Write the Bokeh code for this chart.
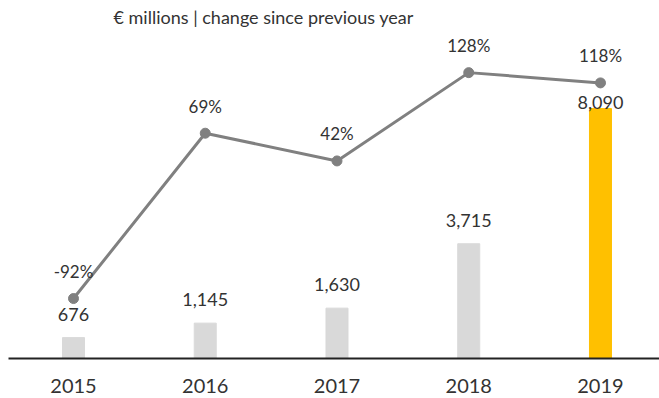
from bokeh.plotting import figure
from bokeh.models import Range1d, FixedTicker, ColumnDataSource, Title
from bokeh.embed import file_html
from bokeh.resources import INLINE
from bokeh.core.properties import value

years = ["2015", "2016", "2017", "2018", "2019"]
amounts = [676, 1145, 1630, 3715, 8090]
amount_labels = ["676", "1,145", "1,630", "3,715", "8,090"]
changes = [-92, 69, 42, 128, 118]
change_labels = ["-92%", "69%", "42%", "128%", "118%"]

bar_colors = ["#d9d9d9", "#d9d9d9", "#d9d9d9", "#d9d9d9", "#ffc000"]
amount_label_offsets = [-17, -17, -17, -17, 0]

FONT = "Lato"
TEXT = "#333333"

xs = list(range(len(years)))
src = ColumnDataSource(dict(x=xs, amt=amounts, amt_lbl=amount_labels, chg=changes,
                            chg_lbl=change_labels, color=bar_colors,
                            off=amount_label_offsets))

p = figure(frame_width=651, frame_height=329, output_backend="svg", toolbar_location=None,
           x_range=Range1d(-0.4934, 4.448), y_range=Range1d(0, 10650),
           y_axis_location=None, min_border_left=8, min_border_right=0,
           min_border_top=29, min_border_bottom=0)
p.extra_y_ranges = {"pct": Range1d(-150.4, 170)}

p.title = Title(text="€ millions | change since previous year", align="left", offset=105,
                text_font=FONT, text_font_size="18px", text_font_style="normal",
                text_color=TEXT, standoff=4)

p.outline_line_color = None
p.grid.visible = False
p.background_fill_color = "white"
p.border_fill_color = "white"

p.vbar(x="x", top="amt", bottom=0, width=0.167, color="color", source=src)
p.text(x="x", y="amt", text="amt_lbl", y_offset="off", text_align="center",
       text_baseline="bottom", text_font=value(FONT), text_font_size="18px",
       text_color=TEXT, source=src)

p.line(x="x", y="chg", line_color="#808080", line_width=3, y_range_name="pct", source=src)
p.scatter(x="x", y="chg", size=10, color="#808080", y_range_name="pct", source=src)
p.text(x="x", y="chg", text="chg_lbl", y_offset=-27, text_align="center",
       text_baseline="middle", text_font=value(FONT), text_font_size="17px",
       text_color=TEXT, y_range_name="pct", source=src)

ax = p.xaxis[0]
ax.ticker = FixedTicker(ticks=xs)
ax.major_label_overrides = {i: y for i, y in enumerate(years)}
ax.major_tick_line_color = None
ax.minor_tick_line_color = None
ax.axis_line_color = "#222222"
ax.axis_line_width = 2
ax.major_label_standoff = 14
ax.major_label_text_font = FONT
ax.major_label_text_font_size = "20px"
ax.major_label_text_color = TEXT

open("out.html", "w").write(file_html(p, INLINE))
